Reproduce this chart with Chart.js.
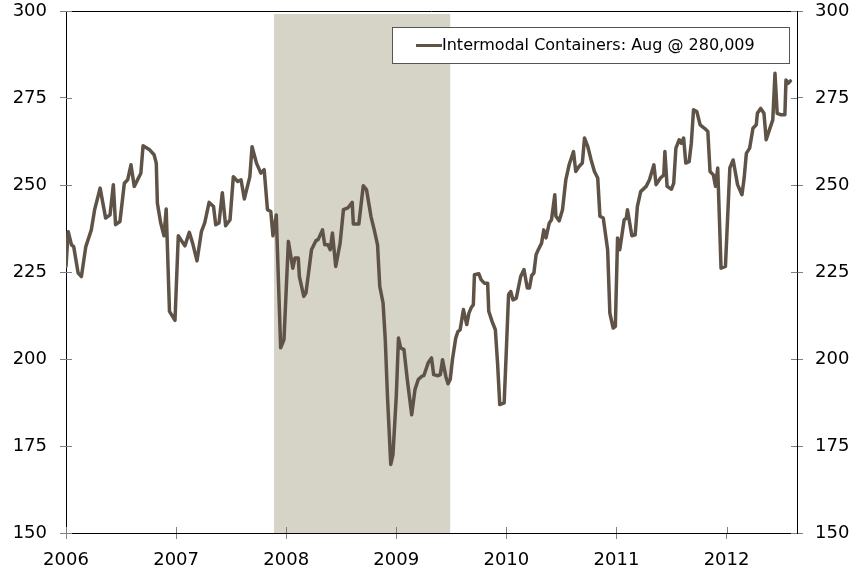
<!DOCTYPE html>
<html><head><meta charset="utf-8">
<script src="https://cdn.jsdelivr.net/npm/chart.js@4/dist/chart.umd.min.js"></script>
<style>html,body{margin:0;padding:0;background:#fff;} #wrap{width:865px;height:571px;position:relative;}</style>
</head><body><div id="wrap"><canvas id="c" width="865" height="571"></canvas></div>
<script>
const seriesLabel = 'Intermodal Containers: Aug @ 280,009';
const weekDates = [
2006.00,2006.02,2006.05,2006.07,2006.11,2006.14,2006.18,2006.23,2006.26,2006.31,
2006.36,2006.40,2006.43,2006.45,2006.49,2006.53,2006.56,2006.59,2006.62,2006.68,
2006.70,2006.76,2006.80,2006.82,2006.83,2006.86,2006.89,2006.91,2006.94,2006.99,
2007.02,2007.08,2007.12,2007.15,2007.19,2007.23,2007.26,2007.30,2007.34,2007.36,
2007.39,2007.42,2007.45,2007.49,2007.52,2007.56,2007.59,2007.62,2007.67,2007.69,
2007.73,2007.77,2007.80,2007.83,2007.86,2007.88,2007.91,2007.95,2007.98,2008.02,
2008.06,2008.08,2008.11,2008.12,2008.16,2008.18,2008.23,2008.27,2008.29,2008.33,
2008.35,2008.38,2008.40,2008.42,2008.45,2008.49,2008.52,2008.56,2008.60,2008.61,
2008.66,2008.70,2008.73,2008.77,2008.80,2008.83,2008.85,2008.88,2008.90,2008.92,
2008.95,2008.97,2009.00,2009.02,2009.04,2009.07,2009.10,2009.14,2009.17,2009.20,
2009.23,2009.25,2009.29,2009.32,2009.34,2009.38,2009.40,2009.42,2009.45,2009.47,
2009.49,2009.51,2009.54,2009.56,2009.58,2009.59,2009.61,2009.64,2009.66,2009.68,
2009.70,2009.71,2009.75,2009.77,2009.80,2009.83,2009.84,2009.87,2009.90,2009.92,
2009.94,2009.98,2010.00,2010.02,2010.04,2010.06,2010.09,2010.13,2010.16,2010.19,
2010.21,2010.23,2010.25,2010.27,2010.29,2010.32,2010.34,2010.36,2010.39,2010.41,
2010.44,2010.45,2010.48,2010.51,2010.54,2010.57,2010.61,2010.63,2010.66,2010.69,
2010.71,2010.74,2010.77,2010.80,2010.83,2010.85,2010.88,2010.92,2010.94,2010.97,
2010.99,2011.01,2011.03,2011.07,2011.09,2011.10,2011.14,2011.17,2011.19,2011.22,
2011.27,2011.30,2011.34,2011.36,2011.40,2011.43,2011.44,2011.46,2011.50,2011.52,
2011.54,2011.57,2011.59,2011.61,2011.63,2011.66,2011.68,2011.70,2011.73,2011.76,
2011.80,2011.83,2011.85,2011.88,2011.90,2011.92,2011.95,2011.99,2012.03,2012.06,
2012.10,2012.14,2012.16,2012.18,2012.21,2012.24,2012.27,2012.28,2012.31,2012.34,
2012.36,2012.39,2012.42,2012.44,2012.46,2012.49,2012.53,2012.54,2012.56,2012.58
];
const containerValues = [
226.6,236.6,232.8,232.3,224.7,223.7,232.3,237.1,242.9,249.1,
240.5,241.4,250.1,238.6,239.5,250.5,251.5,255.8,249.6,253.4,
261.3,260.1,258.7,256.3,244.8,239.1,235.4,243.1,213.7,211.1,
235.4,232.5,236.4,233.3,228.2,236.6,239.1,245.0,243.8,238.6,
239.1,247.8,238.3,240.0,252.4,251.0,251.5,246.0,252.4,261.0,
256.3,253.4,254.4,242.9,242.4,235.4,241.4,203.2,205.6,233.8,
226.1,229.0,229.0,223.7,218.0,219.0,231.4,234.0,234.3,237.1,
232.8,232.8,231.4,236.2,226.6,233.3,242.9,243.4,245.0,238.8,
238.8,249.8,248.6,241.0,237.1,232.8,220.9,216.1,205.6,189.3,
169.7,172.5,189.3,206.0,203.2,202.7,194.1,184.0,191.2,194.1,
195.0,195.2,198.9,200.3,195.5,195.2,195.5,199.8,195.0,192.9,
194.1,199.8,206.0,207.9,208.4,210.3,214.2,209.9,213.2,214.7,
215.6,224.2,224.5,222.8,221.8,221.8,213.7,210.8,208.4,198.9,
186.9,187.4,202.7,218.5,219.4,217.0,217.5,223.7,225.7,220.4,
220.4,224.0,224.7,230.0,231.4,233.3,237.1,234.8,239.1,240.0,
247.2,241.0,239.7,242.9,251.5,255.8,259.6,253.9,255.3,256.3,
263.5,261.0,257.2,253.9,252.0,241.0,240.5,231.4,213.2,208.9,
209.4,234.8,231.4,240.0,240.5,242.9,235.4,235.7,243.8,248.1,
249.6,251.5,255.8,250.1,252.0,252.9,259.6,249.6,248.8,250.5,
260.6,263.0,262.0,263.5,256.3,256.7,262.0,271.6,271.1,267.3,
266.3,265.4,253.9,252.9,249.6,254.9,226.1,226.6,254.9,257.2,
250.1,247.2,252.0,259.1,260.6,266.3,267.3,270.6,272.0,270.6,
263.0,265.9,268.7,282.1,270.6,270.2,270.2,280.2,279.2,279.9
];
const yearTicks = [2006,2007,2008,2009,2010,2011,2012];
const valueTicks = [150,175,200,225,250,275,300];
const recessionStart = [2007.89];
const recessionEnd = [2009.49];

const LINE = 'rgb(94,83,70)';
const SHADE = 'rgb(214,211,199)';
const FONT = '"DejaVu Sans", Verdana, sans-serif';

const shadePlugin = {
  id: 'shade',
  beforeDatasetsDraw(chart) {
    const {ctx, chartArea: a, scales: {x}} = chart;
    ctx.save();
    ctx.fillStyle = SHADE;
    recessionStart.forEach((s, i) => {
      const x0 = x.getPixelForValue(s), x1 = x.getPixelForValue(recessionEnd[i]);
      ctx.fillRect(x0, a.top + 3, x1 - x0, a.bottom - a.top - 3);
    });
    ctx.restore();
  }
};

const framePlugin = {
  id: 'frame',
  afterDatasetsDraw(chart) {
    const {ctx, chartArea: a, scales} = chart;
    ctx.save();
    ctx.strokeStyle = '#000';
    ctx.lineWidth = 1;
    ctx.beginPath();
    ctx.moveTo(a.left, a.top + 0.5); ctx.lineTo(a.right, a.top + 0.5);
    ctx.stroke();
    ctx.strokeStyle = '#808080';
    ctx.beginPath();
    scales.y.ticks.forEach(t => {
      const y = Math.round(scales.y.getPixelForValue(t.value)) + 0.5;
      ctx.moveTo(a.left, y); ctx.lineTo(a.left + 6, y);
      ctx.moveTo(a.right - 6, y); ctx.lineTo(a.right, y);
    });
    scales.x.ticks.forEach(t => {
      const x = Math.round(scales.x.getPixelForValue(t.value)) + 0.5;
      ctx.moveTo(x, a.bottom); ctx.lineTo(x, a.bottom - 6);
    });
    ctx.stroke();
    const ds = chart.data.datasets[0];
    const bw = 397, bh = 36;
    const bx = a.right - 8 - bw, by = a.top + 16;
    ctx.fillStyle = '#fff';
    ctx.fillRect(bx, by, bw, bh);
    ctx.strokeStyle = '#555';
    ctx.strokeRect(bx + 0.5, by + 0.5, bw, bh);
    const cy = by + bh / 2 + 0.5;
    ctx.strokeStyle = ds.borderColor;
    ctx.lineWidth = 3;
    ctx.beginPath();
    ctx.moveTo(bx + 24, cy); ctx.lineTo(bx + 50, cy);
    ctx.stroke();
    ctx.fillStyle = '#000';
    ctx.font = '16px ' + FONT;
    ctx.textBaseline = 'middle';
    ctx.textAlign = 'left';
    ctx.fillText(ds.label, bx + 50, cy);
    ctx.restore();
  }
};

const tickFont = {family: FONT, size: 18};
const gridOpts = {drawOnChartArea: false, drawTicks: true, tickLength: 6, color: '#808080', tickColor: '#808080'};
const fitY = w => s => { s.width = w; s.paddingTop = 0; s.paddingBottom = 0; };

new Chart(document.getElementById('c'), {
  type: 'line',
  data: {
    datasets: [{
      label: seriesLabel,
      data: weekDates.map((d, i) => ({x: d, y: containerValues[i]})),
      borderColor: LINE,
      backgroundColor: LINE,
      borderWidth: 3.5,
      pointRadius: 0,
      tension: 0,
      borderJoinStyle: 'round',
      borderCapStyle: 'round',
      fill: false
    }]
  },
  options: {
    responsive: false,
    devicePixelRatio: 1,
    animation: false,
    layout: {padding: {top: 11, left: 0, right: 0, bottom: 0}},
    plugins: {legend: {display: false}, tooltip: {enabled: false}},
    scales: {
      x: {
        type: 'linear', position: 'bottom', min: 2006, max: 2012.64,
        afterBuildTicks: s => { s.ticks = yearTicks.map(v => ({value: v})); },
        afterFit: s => { s.height = 38; s.paddingLeft = 0; s.paddingRight = 0; },
        ticks: {font: tickFont, color: '#000', padding: 11, callback: v => String(v), maxRotation: 0, autoSkip: false},
        grid: gridOpts,
        border: {display: true, color: '#000', width: 1}
      },
      y: {
        position: 'left', min: 150, max: 300,
        afterBuildTicks: s => { s.ticks = valueTicks.map(v => ({value: v})); },
        afterFit: fitY(66),
        ticks: {font: tickFont, color: '#000', padding: 13},
        grid: gridOpts,
        border: {display: true, color: '#000', width: 1}
      },
      y2: {
        position: 'right', min: 150, max: 300,
        afterBuildTicks: s => { s.ticks = valueTicks.map(v => ({value: v})); },
        afterFit: fitY(68),
        ticks: {font: tickFont, color: '#000', padding: 12},
        grid: gridOpts,
        border: {display: true, color: '#000', width: 1}
      }
    }
  },
  plugins: [shadePlugin, framePlugin]
});
</script></body></html>
